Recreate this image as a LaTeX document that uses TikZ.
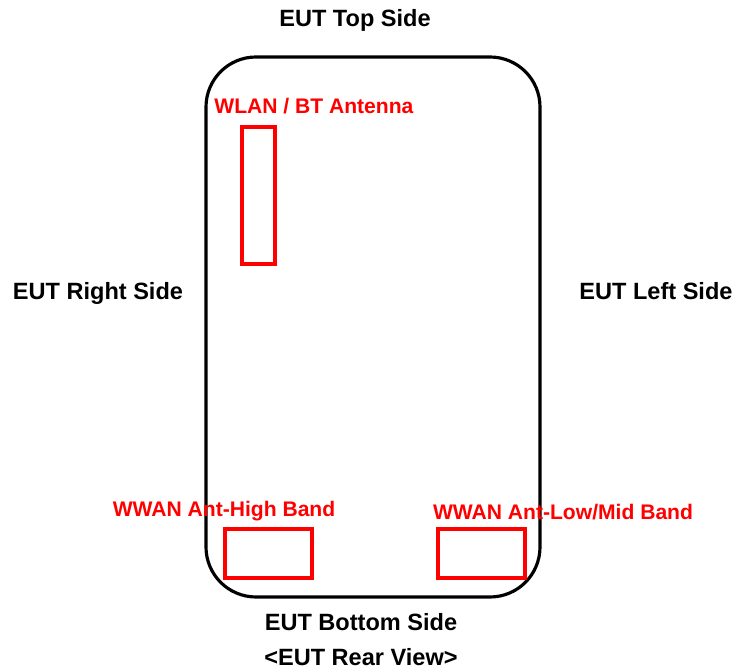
\documentclass[tikz,border=0pt]{standalone}
\usepackage{fontspec}
\setmainfont{Liberation Sans}
\begin{document}
\begin{tikzpicture}[
  x=0.02cm, y=-0.02cm,
  side/.style={font=\fontsize{13.4}{15}\selectfont\bfseries, inner sep=0pt},
  antlbl/.style={font=\fontsize{12}{14}\selectfont\bfseries, text=red, inner sep=0pt},
  body/.style={draw=black, line width=1.8pt, rounded corners=1cm},
  antbox/.style={draw=red, line width=2.3pt},
]
\useasboundingbox (0,0) rectangle (737,671);

% device outline
\draw[body] (206,57) rectangle (540,597);

% antennas
\draw[antbox] (242,127) rectangle (275,264);
\draw[antbox] (225,529) rectangle (312,578);
\draw[antbox] (438,529) rectangle (525,578);

\node[antlbl, anchor=west] (wlan) at (214,106) {WLAN / BT Antenna};
\node[antlbl] (high) at (224,511) {WWAN Ant-High Band};
\node[antlbl] (lowmid) at (563,512) {WWAN Ant-Low/Mid Band};

% sides
\node[side] (top)    at (355,20)  {EUT Top Side};
\node[side] (right)  at (98,293)  {EUT Right Side};
\node[side] (left)   at (656,291) {EUT Left Side};
\node[side] (bottom) at (361,622) {EUT Bottom Side};
\node[side] (view)   at (361,657) {<EUT Rear View>};

\end{tikzpicture}
\end{document}
